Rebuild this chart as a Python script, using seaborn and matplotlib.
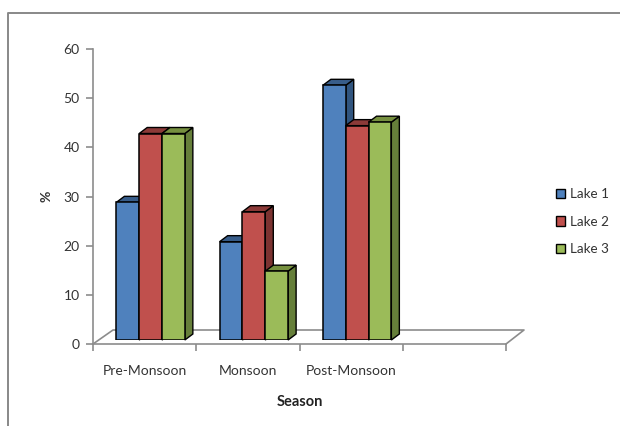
#!/usr/bin/env python3
import matplotlib
matplotlib.use("Agg")
import matplotlib.pyplot as plt
from matplotlib.patches import Polygon, Rectangle
import pandas as pd
import seaborn as sns

SEASONS = ["Pre-Monsoon", "Monsoon", "Post-Monsoon"]
LAKES = ["Lake 1", "Lake 2", "Lake 3"]
LAKE_1 = [28, 20, 51.8]
LAKE_2 = [42, 26.1, 43.6]
LAKE_3 = [42, 14, 44.3]
Y_TICKS = [0, 10, 20, 30, 40, 50, 60]

FRONT = ["#4F81BD", "#C0504D", "#9BBB59"]
TOP = ["#385D8A", "#8C3A38", "#76903F"]
SIDE = ["#31557F", "#7C3331", "#667F3A"]
AXIS_GREY = "#8C8C8C"
TEXT = "#333333"

W, H = 620, 426
DEPTH_X, DEPTH_Y = 8, 6

sns.set_theme(style="white")
plt.rcParams["font.family"] = ["Lato", "DejaVu Sans"]
plt.rcParams["font.size"] = 10


def px(x, y):
    return x / W, 1 - y / H


def box(left, right, top, bottom):
    return [left / W, 1 - bottom / H, (right - left) / W, (bottom - top) / H]


def main():
    df = pd.DataFrame({
        "Season": SEASONS * 3,
        "Lake": [l for l in LAKES for _ in SEASONS],
        "Value": LAKE_1 + LAKE_2 + LAKE_3,
    })

    fig = plt.figure(figsize=(W / 100, H / 100), dpi=100, facecolor="white")

    # front plane: the axes with ticks and labels
    ax_front = fig.add_axes(box(93, 506, 49, 344), zorder=1)
    ax_front.patch.set_visible(False)
    ax_front.set_xlim(0, 4)
    ax_front.set_ylim(0, 60)
    ax_front.set_yticks(Y_TICKS)
    ax_front.set_xticks(range(5))
    ax_front.set_xticklabels([])
    ax_front.set_xticks([0.5, 1.5, 2.5], labels=SEASONS, minor=True)
    ax_front.tick_params(axis="x", which="major", length=5, width=1.2, color=AXIS_GREY, bottom=True)
    ax_front.tick_params(axis="x", which="minor", length=0, pad=15, labelsize=10, labelcolor=TEXT, bottom=False)
    ax_front.tick_params(axis="y", length=5, width=1.2, color=AXIS_GREY, pad=4.5, labelsize=10, labelcolor=TEXT, left=True)
    sns.despine(ax=ax_front)
    for side in ["left", "bottom"]:
        ax_front.spines[side].set_color(AXIS_GREY)
        ax_front.spines[side].set_linewidth(1.2)

    # floor of the 3d box
    floor = [(93, 344), (113, 330), (524, 330), (506, 344)]
    xs, ys = zip(*[px(*p) for p in floor])
    ax_front.plot(xs, ys, color=AXIS_GREY, lw=1.2, transform=fig.transFigure, clip_on=False)

    # outer chart border, runs off the image on the right and the bottom
    xs, ys = zip(*[px(*p) for p in [(8, 430), (8, 13), (625, 13)]])
    ax_front.plot(xs, ys, color="#888888", lw=1.4, transform=fig.transFigure, clip_on=False)

    ax_front.set_ylabel("%", fontweight="bold", fontsize=10, color=TEXT, labelpad=8)
    ax_front.set_xlabel("Season", fontweight="bold", fontsize=10.5, color="#222222", labelpad=13)

    # bars sit a little behind the front plane
    ax = fig.add_axes(box(99, 512, 45, 340), zorder=2)
    ax.patch.set_visible(False)
    sns.barplot(data=df, x="Season", y="Value", hue="Lake", order=SEASONS + [""], hue_order=LAKES,
                palette=FRONT, saturation=1, width=0.663, gap=0, edgecolor="black", linewidth=1.1, ax=ax)
    ax.set_xlim(-0.5, 3.5)
    ax.set_ylim(0, 60)
    ax.axis("off")

    dx = DEPTH_X / 413 * 4
    dy = DEPTH_Y / 295 * 60
    for i, cont in enumerate(ax.containers):
        for bar in cont:
            x0, w, h = bar.get_x(), bar.get_width(), bar.get_height()
            if pd.isna(h):
                continue
            bar.set_zorder(3 + i * 2)
            x1 = x0 + w
            top = Polygon([(x0, h), (x0 + dx, h + dy), (x1 + dx, h + dy), (x1, h)],
                          facecolor=TOP[i], edgecolor="black", lw=1.0, zorder=2 + i * 2, clip_on=False)
            side = Polygon([(x1, 0), (x1 + dx, dy), (x1 + dx, h + dy), (x1, h)],
                           facecolor=SIDE[i], edgecolor="black", lw=1.0, zorder=2 + i * 2, clip_on=False)
            ax.add_patch(side)
            ax.add_patch(top)

    handles = [Rectangle((0, 0), 1, 1, facecolor=c, edgecolor="black", lw=1.0) for c in FRONT]
    ax.legend(handles, LAKES, loc="center left", bbox_to_anchor=px(556, 221.5), bbox_transform=fig.transFigure,
              frameon=False, fontsize=9.7, labelcolor=TEXT, handlelength=0.7, handleheight=0.7,
              handletextpad=0.35, labelspacing=1.15, borderpad=0, borderaxespad=0)

    fig.savefig("out.png", dpi=100)
    plt.close(fig)


if __name__ == "__main__":
    main()
